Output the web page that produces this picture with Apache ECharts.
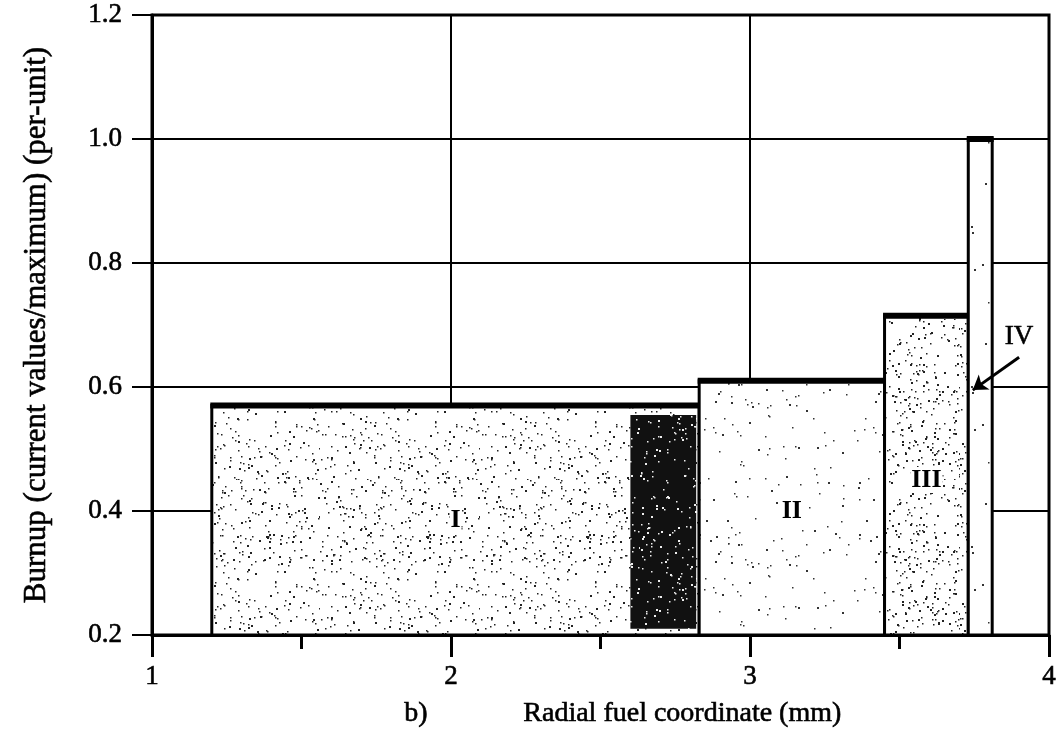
<!DOCTYPE html>
<html>
<head>
<meta charset="utf-8">
<script src="https://cdn.jsdelivr.net/npm/echarts@6/dist/echarts.min.js"></script>
<style>
  html, body { margin: 0; padding: 0; background: #fff; }
  #chart { width: 1062px; height: 751px; }
</style>
</head>
<body>
<div id="chart"></div>
<script>
// zone boundaries (mm) and burnup of each zone (per-unit)
const zoneEdges = [1.2, 2.83, 3.45, 3.73, 3.81];
const zoneBurnup = [0.57, 0.61, 0.715, 1.0];
const zoneNames = ['I', 'II', 'III', 'IV'];
const zoneNameY = [0.385, 0.4, 0.45, null];
// dark rim band inside zone I
const rimEdges = [2.6, 2.82];
const rimBurnup = 0.555;
// pointer for zone IV: arrow tail, arrow head, label spot
const arrowIV = [[3.9, 0.648], [3.745, 0.595]];
const labelIV = [3.9, 0.68];

const FONT = '"Liberation Serif", "Times New Roman", serif';
// scanned text looks heavy, thicken a little
const INK = { textBorderColor: '#000', textBorderWidth: 0.6 };

// seeded dot texture, so the picture is the same every run
function stipple(density, dot, bg, seed) {
  const size = 160;
  const c = document.createElement('canvas');
  c.width = c.height = size;
  const g = c.getContext('2d');
  g.fillStyle = bg;
  g.fillRect(0, 0, size, size);
  g.fillStyle = dot;
  let s = seed;
  const rnd = () => { s = (s * 16807) % 2147483647; return s / 2147483647; };
  const n = Math.round(size * size * density);
  for (let i = 0; i < n; i++) {
    const x = Math.floor(rnd() * size), y = Math.floor(rnd() * size);
    const w = rnd() < 0.3 ? 2 : 1.5;
    g.fillRect(x, y, w, w);
  }
  return c;
}

const zoneFill = [
  stipple(1 / 60, '#222', '#fff', 11),
  stipple(1 / 240, '#333', '#fff', 23),
  stipple(1 / 45, '#222', '#fff', 37),
  stipple(1 / 600, '#333', '#fff', 41)
];
const rimFill = stipple(1 / 70, '#eee', '#111', 53);

const chart = echarts.init(document.getElementById('chart'));

const zoneData = zoneNames.map((n, i) => [zoneEdges[i], zoneEdges[i + 1], zoneBurnup[i]]);

chart.setOption({
  animation: false,
  grid: {
    left: 152, right: 13, top: 15, bottom: 116,
    show: true, borderColor: '#000', borderWidth: 3
  },
  xAxis: {
    type: 'value', min: 1, max: 4, interval: 1,
    axisLine: { lineStyle: { color: '#000', width: 3 } },
    axisTick: { show: true, length: 22, lineStyle: { color: '#000', width: 3 } },
    minorTick: { show: true, splitNumber: 2, length: 14, lineStyle: { color: '#000', width: 3 } },
    axisLabel: { color: '#000', fontFamily: FONT, fontSize: 27, margin: 28, ...INK },
    splitLine: { show: true, lineStyle: { color: '#000', width: 2 } }
  },
  yAxis: {
    type: 'value', min: 0.2, max: 1.2, interval: 0.2,
    name: 'Burnup (current values/maximum) (per-unit)',
    nameLocation: 'middle', nameGap: 100,
    nameTextStyle: { color: '#000', fontFamily: FONT, fontSize: 31, ...INK },
    axisLine: { lineStyle: { color: '#000', width: 3 } },
    axisTick: { show: true, length: 20, lineStyle: { color: '#000', width: 2 } },
    axisLabel: { color: '#000', fontFamily: FONT, fontSize: 27, margin: 30,
      formatter: v => v.toFixed(1), ...INK },
    splitLine: { show: true, lineStyle: { color: '#000', width: 2 } }
  },
  graphic: [
    { type: 'text', left: 404, top: 699,
      style: { text: 'b)', fill: '#000', font: '28px ' + FONT, stroke: '#000', lineWidth: 0.6 } },
    { type: 'text', left: 523, top: 699,
      style: { text: 'Radial fuel coordinate (mm)', fill: '#000', font: '28px ' + FONT,
        stroke: '#000', lineWidth: 0.6 } }
  ],
  series: [
    {
      type: 'custom',
      data: zoneData,
      renderItem(params, api) {
        const i = params.dataIndex;
        const p0 = api.coord([api.value(0), api.value(2)]);
        const p1 = api.coord([api.value(1), 0.2]);
        const children = [
          {
            type: 'rect',
            shape: { x: p0[0], y: p0[1], width: p1[0] - p0[0], height: p1[1] - p0[1] },
            style: { fill: { image: zoneFill[i], repeat: 'repeat' }, stroke: '#000', lineWidth: 3 }
          },
          {
            type: 'line',
            shape: { x1: p0[0] - 1.5, y1: p0[1], x2: p1[0] + 1.5, y2: p0[1] },
            style: { stroke: '#000', lineWidth: 6 }
          }
        ];
        if (zoneNameY[i] != null) {
          const c = api.coord([(api.value(0) + api.value(1)) / 2, zoneNameY[i]]);
          children.push({
            type: 'text', x: c[0], y: c[1],
            style: { text: zoneNames[i], fill: '#000', font: 'bold 26px ' + FONT,
              align: 'center', verticalAlign: 'middle',
              backgroundColor: '#fff', padding: [0, 1] }
          });
        }
        return { type: 'group', children };
      },
      markLine: {
        silent: true,
        symbol: ['none', 'arrow'],
        symbolSize: 14,
        lineStyle: { color: '#000', width: 3, type: 'solid' },
        label: { show: false },
        data: [[{ coord: arrowIV[0] }, { coord: arrowIV[1] }]]
      },
      markPoint: {
        silent: true,
        symbol: 'circle',
        symbolSize: 1,
        itemStyle: { color: 'rgba(0,0,0,0)' },
        label: { show: true, position: 'inside', formatter: 'IV', color: '#000',
          fontFamily: FONT, fontSize: 27, ...INK },
        data: [{ name: 'IV', coord: labelIV }]
      }
    },
    {
      type: 'custom',
      data: [[rimEdges[0], rimEdges[1], rimBurnup]],
      renderItem(params, api) {
        const p0 = api.coord([api.value(0), api.value(2)]);
        const p1 = api.coord([api.value(1), 0.21]);
        return {
          type: 'rect',
          shape: { x: p0[0], y: p0[1], width: p1[0] - p0[0], height: p1[1] - p0[1] },
          style: { fill: { image: rimFill, repeat: 'repeat' } }
        };
      }
    }
  ]
});
</script>
</body>
</html>
